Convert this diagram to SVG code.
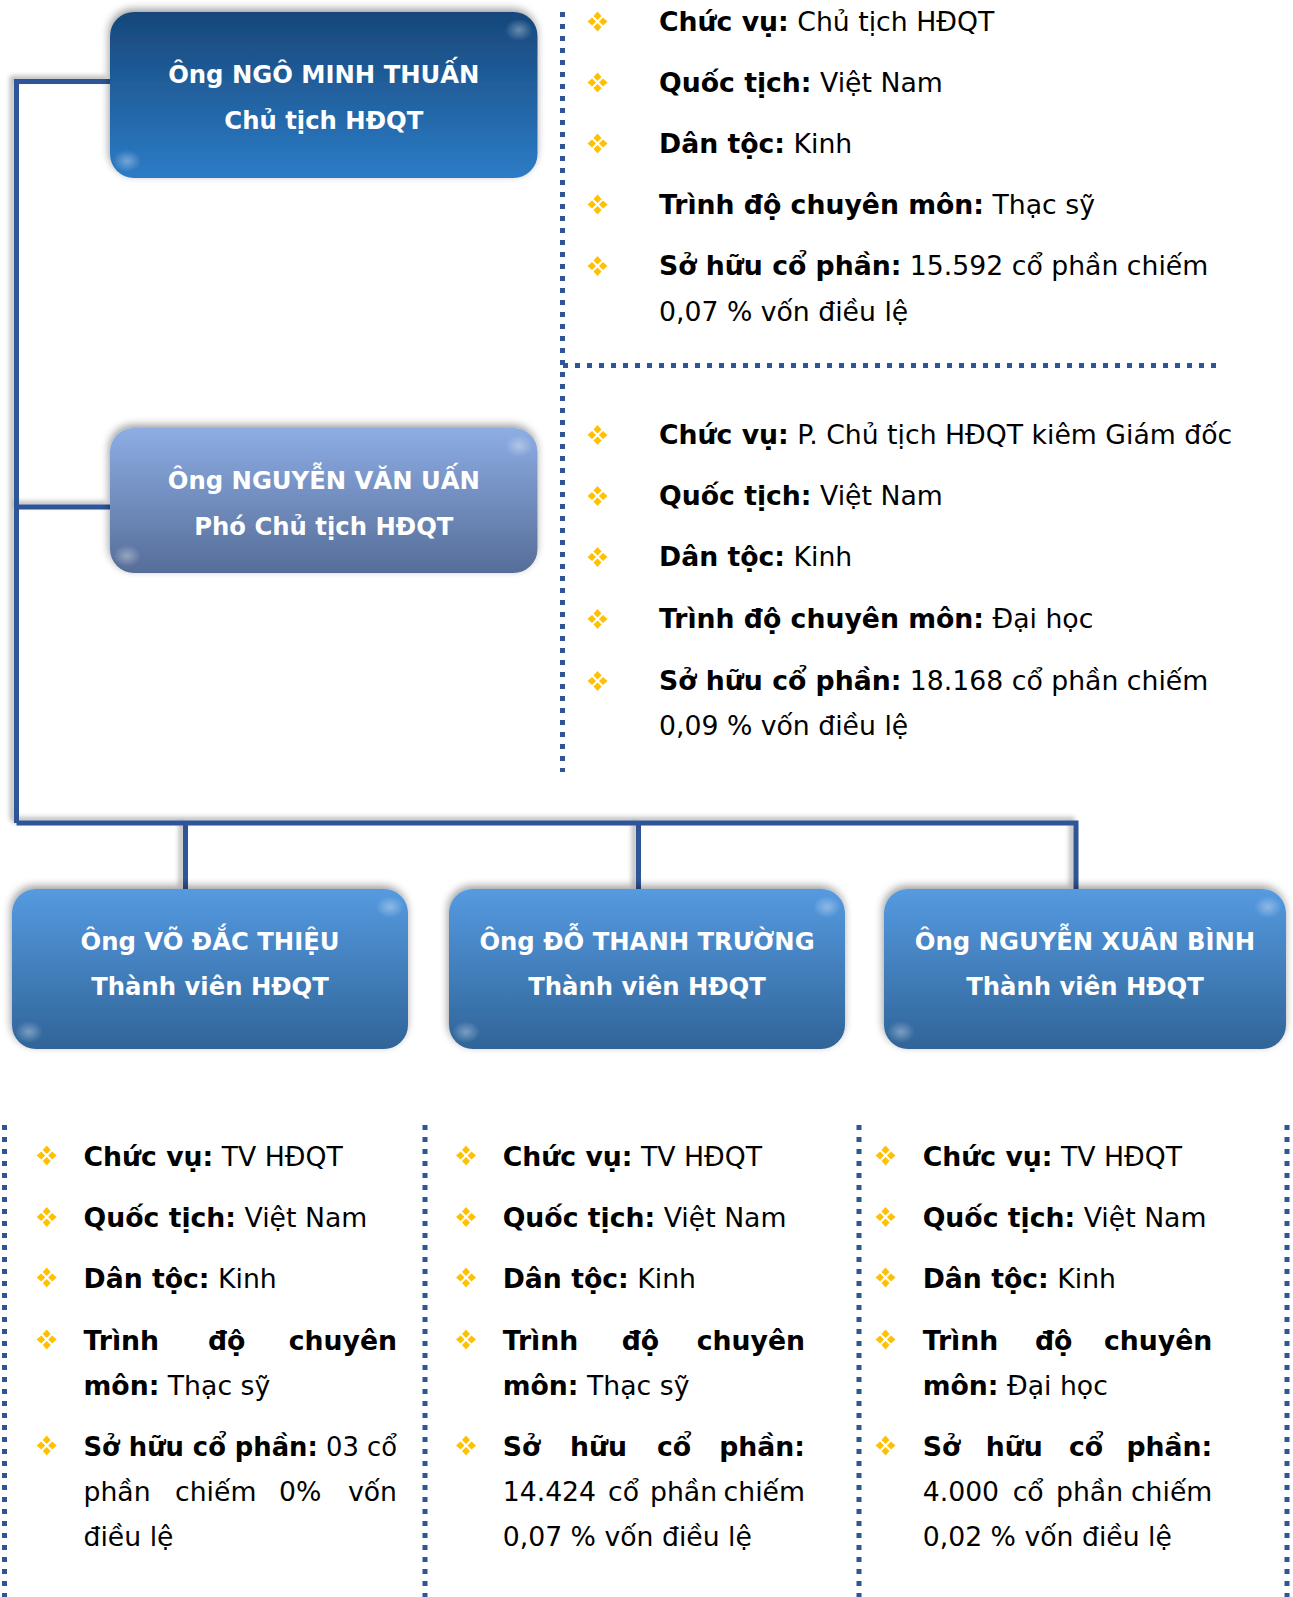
<svg xmlns="http://www.w3.org/2000/svg" width="1293" height="1597" viewBox="0 0 1293 1597">
<defs>
<style>
.t{font-family:"DejaVu Sans","Verdana",sans-serif;font-size:26.7px;fill:#000}
.b{font-weight:bold}
.nt{font-family:"DejaVu Sans","Verdana",sans-serif;font-size:24.3px;font-weight:bold;fill:#fff;text-anchor:middle}
.ln{fill:none;stroke:#2f5597;stroke-width:5}
.dot{fill:none;stroke:#2f5597;stroke-width:5;stroke-dasharray:5 7}
.e{text-anchor:end}
</style>
<linearGradient id="g1" x1="0" y1="0" x2="0" y2="1">
<stop offset="0" stop-color="#17477a"/><stop offset="1" stop-color="#2c7cc6"/>
</linearGradient>
<linearGradient id="g2" x1="0" y1="0" x2="0" y2="1">
<stop offset="0" stop-color="#8dade4"/><stop offset="1" stop-color="#566d98"/>
</linearGradient>
<linearGradient id="g3" x1="0" y1="0" x2="0" y2="1">
<stop offset="0" stop-color="#559ae0"/><stop offset="1" stop-color="#306498"/>
</linearGradient>
<radialGradient id="hl">
<stop offset="0" stop-color="#fff" stop-opacity="0.35"/><stop offset="1" stop-color="#fff" stop-opacity="0"/>
</radialGradient>
<filter id="sh" x="-10%" y="-20%" width="120%" height="140%">
<feGaussianBlur in="SourceAlpha" stdDeviation="4"/>
<feOffset dx="-1" dy="-3" result="o"/>
<feComponentTransfer><feFuncA type="linear" slope="0.4"/></feComponentTransfer>
<feMerge><feMergeNode/><feMergeNode in="SourceGraphic"/></feMerge>
</filter>
<filter id="lsh" x="-5%" y="-5%" width="110%" height="110%">
<feGaussianBlur in="SourceAlpha" stdDeviation="2.5"/>
<feOffset dx="-4" dy="-3"/>
<feComponentTransfer><feFuncA type="linear" slope="0.3"/></feComponentTransfer>
<feMerge><feMergeNode/><feMergeNode in="SourceGraphic"/></feMerge>
</filter>
<g id="bul" fill="#ffc000">
<polygon points="0,-10 4,-5.5 0,-1.5 -4,-5.5"/>
<polygon points="0,10 4,5.5 0,1.5 -4,5.5"/>
<polygon points="-10,0 -5.5,-4 -1.5,0 -5.5,4"/>
<polygon points="10,0 5.5,-4 1.5,0 5.5,4"/>
</g>
</defs>
<rect width="1293" height="1597" fill="#fff"/>

<g id="connectors" filter="url(#lsh)">
<path class="ln" d="M16.5,81.5 H110 M16.5,79 V823 M16.5,507 H110 M16.5,823 H1076 M185.5,823 V889 M638.5,823 V889 M1076,820.5 V889"/>
</g>

<g id="dividers">
<path class="dot" d="M562.5,12 V772"/>
<path class="dot" d="M563,365.5 H1222"/>
<path class="dot" d="M4.5,1125 V1597"/>
<path class="dot" d="M425,1125 V1597"/>
<path class="dot" d="M859,1125 V1597"/>
<path class="dot" d="M1287,1125 V1597"/>
</g>

<g id="node-thuan">
<rect x="110" y="12" width="427.5" height="166" rx="24" fill="url(#g1)" filter="url(#sh)"/>
<ellipse cx="519" cy="30" rx="14" ry="11" fill="url(#hl)"/>
<ellipse cx="127" cy="161" rx="14" ry="11" fill="url(#hl)"/>
<text class="nt" x="323.8" y="82.5">Ông NGÔ MINH THUẤN</text>
<text class="nt" x="323.8" y="128.5">Chủ tịch HĐQT</text>
</g>

<g id="node-uan">
<rect x="110" y="428" width="427.5" height="145" rx="24" fill="url(#g2)" filter="url(#sh)"/>
<ellipse cx="519" cy="446" rx="14" ry="11" fill="url(#hl)"/>
<ellipse cx="127" cy="556" rx="14" ry="11" fill="url(#hl)"/>
<text class="nt" x="323.8" y="488.5">Ông NGUYỄN VĂN UẤN</text>
<text class="nt" x="323.8" y="534.5">Phó Chủ tịch HĐQT</text>
</g>

<g id="node-thieu">
<rect x="12" y="889" width="396" height="160" rx="24" fill="url(#g3)" filter="url(#sh)"/>
<ellipse cx="390" cy="907" rx="14" ry="11" fill="url(#hl)"/>
<ellipse cx="29" cy="1032" rx="14" ry="11" fill="url(#hl)"/>
<text class="nt" x="210" y="949.5">Ông VÕ ĐẮC THIỆU</text>
<text class="nt" x="210" y="994.5">Thành viên HĐQT</text>
</g>

<g id="node-truong">
<rect x="449" y="889" width="396" height="160" rx="24" fill="url(#g3)" filter="url(#sh)"/>
<ellipse cx="827" cy="907" rx="14" ry="11" fill="url(#hl)"/>
<ellipse cx="466" cy="1032" rx="14" ry="11" fill="url(#hl)"/>
<text class="nt" x="647" y="949.5">Ông ĐỖ THANH TRƯỜNG</text>
<text class="nt" x="647" y="994.5">Thành viên HĐQT</text>
</g>

<g id="node-binh">
<rect x="884" y="889" width="402" height="160" rx="24" fill="url(#g3)" filter="url(#sh)"/>
<ellipse cx="1268" cy="907" rx="14" ry="11" fill="url(#hl)"/>
<ellipse cx="901" cy="1032" rx="14" ry="11" fill="url(#hl)"/>
<text class="nt" x="1085" y="949.5">Ông NGUYỄN XUÂN BÌNH</text>
<text class="nt" x="1085" y="994.5">Thành viên HĐQT</text>
</g>

<g id="info-thuan">
<use href="#bul" x="597.5" y="21.5"/>
<use href="#bul" x="597.5" y="82.5"/>
<use href="#bul" x="597.5" y="143.5"/>
<use href="#bul" x="597.5" y="204.5"/>
<use href="#bul" x="597.5" y="266"/>
<text class="t" x="659" y="30.5"><tspan class="b">Chức vụ:</tspan> Chủ tịch HĐQT</text>
<text class="t" x="659" y="91.5"><tspan class="b">Quốc tịch:</tspan> Việt Nam</text>
<text class="t" x="659" y="152.5"><tspan class="b">Dân tộc:</tspan> Kinh</text>
<text class="t" x="659" y="213.5"><tspan class="b">Trình độ chuyên môn:</tspan> Thạc sỹ</text>
<text class="t" x="659" y="275"><tspan class="b">Sở hữu cổ phần:</tspan> 15.592 cổ phần chiếm</text>
<text class="t" x="659" y="320.5">0,07 % vốn điều lệ</text>
</g>

<g id="info-uan">
<use href="#bul" x="597.5" y="435"/>
<use href="#bul" x="597.5" y="496"/>
<use href="#bul" x="597.5" y="557"/>
<use href="#bul" x="597.5" y="619"/>
<use href="#bul" x="597.5" y="681"/>
<text class="t" x="659" y="444"><tspan class="b">Chức vụ:</tspan> P. Chủ tịch HĐQT kiêm Giám đốc</text>
<text class="t" x="659" y="505"><tspan class="b">Quốc tịch:</tspan> Việt Nam</text>
<text class="t" x="659" y="566"><tspan class="b">Dân tộc:</tspan> Kinh</text>
<text class="t" x="659" y="628"><tspan class="b">Trình độ chuyên môn:</tspan> Đại học</text>
<text class="t" x="659" y="690"><tspan class="b">Sở hữu cổ phần:</tspan> 18.168 cổ phần chiếm</text>
<text class="t" x="659" y="735">0,09 % vốn điều lệ</text>
</g>

<g id="info-thieu">
<use href="#bul" x="46.7" y="1155.5"/>
<use href="#bul" x="46.7" y="1217"/>
<use href="#bul" x="46.7" y="1277.5"/>
<use href="#bul" x="46.7" y="1339.5"/>
<use href="#bul" x="46.7" y="1445.5"/>
<text class="t" x="83.5" y="1165.5"><tspan class="b">Chức vụ:</tspan> TV HĐQT</text>
<text class="t" x="83.5" y="1227"><tspan class="b">Quốc tịch:</tspan> Việt Nam</text>
<text class="t" x="83.5" y="1287.5"><tspan class="b">Dân tộc:</tspan> Kinh</text>
<text class="t b" x="83.5" y="1349.5">Trình</text>
<text class="t b" x="208" y="1349.5">độ</text>
<text class="t b e" x="397" y="1349.5">chuyên</text>
<text class="t" x="83.5" y="1394.5"><tspan class="b">môn:</tspan> Thạc sỹ</text>
<text class="t" x="83.5" y="1455.5" textLength="313.5" lengthAdjust="spacingAndGlyphs"><tspan class="b">Sở hữu cổ phần:</tspan> 03 cổ</text>
<text class="t" x="83.5" y="1500.5">phần</text>
<text class="t" x="175" y="1500.5">chiếm</text>
<text class="t" x="279" y="1500.5">0%</text>
<text class="t e" x="397" y="1500.5">vốn</text>
<text class="t" x="83.5" y="1545.5">điều lệ</text>
</g>

<g id="info-truong">
<use href="#bul" x="466" y="1155.5"/>
<use href="#bul" x="466" y="1217"/>
<use href="#bul" x="466" y="1277.5"/>
<use href="#bul" x="466" y="1339.5"/>
<use href="#bul" x="466" y="1445.5"/>
<text class="t" x="502.7" y="1165.5"><tspan class="b">Chức vụ:</tspan> TV HĐQT</text>
<text class="t" x="502.7" y="1227"><tspan class="b">Quốc tịch:</tspan> Việt Nam</text>
<text class="t" x="502.7" y="1287.5"><tspan class="b">Dân tộc:</tspan> Kinh</text>
<text class="t b" x="502.7" y="1349.5">Trình</text>
<text class="t b" x="621.7" y="1349.5">độ</text>
<text class="t b e" x="805" y="1349.5">chuyên</text>
<text class="t" x="502.7" y="1394.5"><tspan class="b">môn:</tspan> Thạc sỹ</text>
<text class="t b" x="502.7" y="1455.5">Sở</text>
<text class="t b" x="570" y="1455.5">hữu</text>
<text class="t b" x="657" y="1455.5">cổ</text>
<text class="t b e" x="805" y="1455.5">phần:</text>
<text class="t" x="502.7" y="1500.5">14.424</text>
<text class="t" x="608" y="1500.5">cổ</text>
<text class="t" x="650" y="1500.5">phần</text>
<text class="t e" x="805" y="1500.5">chiếm</text>
<text class="t" x="502.7" y="1545.5">0,07 % vốn điều lệ</text>
</g>

<g id="info-binh">
<use href="#bul" x="885.5" y="1155.5"/>
<use href="#bul" x="885.5" y="1217"/>
<use href="#bul" x="885.5" y="1277.5"/>
<use href="#bul" x="885.5" y="1339.5"/>
<use href="#bul" x="885.5" y="1445.5"/>
<text class="t" x="922.7" y="1165.5"><tspan class="b">Chức vụ:</tspan> TV HĐQT</text>
<text class="t" x="922.7" y="1227"><tspan class="b">Quốc tịch:</tspan> Việt Nam</text>
<text class="t" x="922.7" y="1287.5"><tspan class="b">Dân tộc:</tspan> Kinh</text>
<text class="t b" x="922.7" y="1349.5">Trình</text>
<text class="t b" x="1035" y="1349.5">độ</text>
<text class="t b e" x="1212.3" y="1349.5">chuyên</text>
<text class="t" x="922.7" y="1394.5"><tspan class="b">môn:</tspan> Đại học</text>
<text class="t b" x="922.7" y="1455.5">Sở</text>
<text class="t b" x="985.7" y="1455.5">hữu</text>
<text class="t b" x="1069" y="1455.5">cổ</text>
<text class="t b e" x="1212.3" y="1455.5">phần:</text>
<text class="t" x="922.7" y="1500.5">4.000</text>
<text class="t" x="1012.7" y="1500.5">cổ</text>
<text class="t" x="1056" y="1500.5">phần</text>
<text class="t e" x="1212.3" y="1500.5">chiếm</text>
<text class="t" x="922.7" y="1545.5">0,02 % vốn điều lệ</text>
</g>
</svg>
